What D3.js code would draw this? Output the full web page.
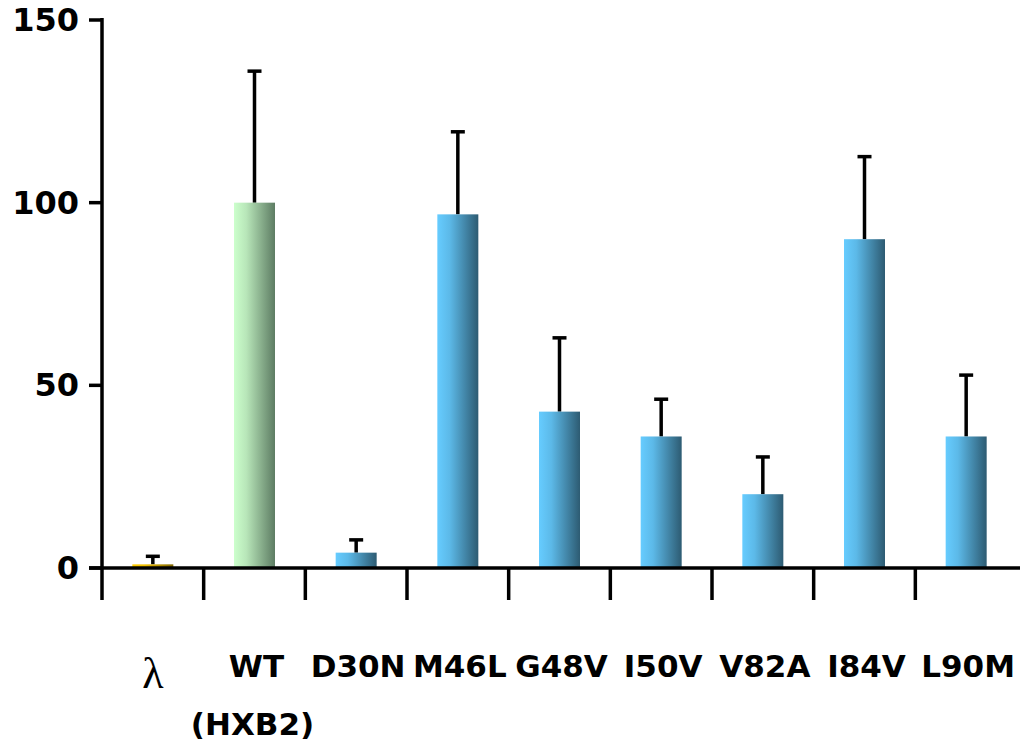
<!DOCTYPE html>
<html>
<head>
<meta charset="utf-8">
<script src="https://cdn.jsdelivr.net/npm/d3@7"></script>
<style>
  body { margin: 0; background: #fff; }
  text { font-family: "DejaVu Sans", sans-serif; font-weight: bold; }
</style>
</head>
<body>
<svg id="chart" width="1025" height="741"></svg>
<script>
// data
let categories = ["λ", "WT", "D30N", "M46L", "G48V", "I50V", "V82A", "I84V", "L90M"];
let values     = [1, 100, 4.2, 96.8, 42.8, 36, 20.2, 90, 36];
let errors     = [2.2, 36, 3.5, 22.6, 20.2, 10.2, 10.2, 22.6, 16.8];
let kinds      = ["gold", "green", "blue", "blue", "blue", "blue", "blue", "blue", "blue"];
let yTicks     = [0, 50, 100, 150];

let svg = d3.select("#chart");

let x = d3.scaleBand().domain(categories).range([102, 1017]).paddingInner(0).paddingOuter(0);
let y = d3.scaleLinear().domain([0, 150]).range([568, 20]);
let barW = 41;

// gradients, light on the left, dark on the right
let gradColors = {
  gold:  ["#ffcc00", "#f2c000", "#7f6500"],
  green: ["#ccffcc", "#b8e6b9", "#5d7c63"],
  blue:  ["#66ccff", "#5cb9e8", "#2d5b72"]
};
let defs = svg.append("defs");
Object.keys(gradColors).forEach(k => {
  let g = defs.append("linearGradient").attr("id", "grad-" + k)
    .attr("x1", "0%").attr("x2", "100%").attr("y1", "0%").attr("y2", "0%");
  g.append("stop").attr("offset", "0%").attr("stop-color", gradColors[k][0]);
  g.append("stop").attr("offset", "30%").attr("stop-color", gradColors[k][1]);
  g.append("stop").attr("offset", "100%").attr("stop-color", gradColors[k][2]);
});

// -------------------- ERROR BARS -------------------- //
let errG = svg.append("g");
categories.forEach((c, i) => {
  let cx = x(c) + x.bandwidth() / 2;
  errG.append("line")
    .attr("x1", cx).attr("x2", cx)
    .attr("y1", y(values[i])).attr("y2", y(values[i] + errors[i]))
    .attr("stroke", "#000").attr("stroke-width", 3.5);
  errG.append("line")
    .attr("x1", cx - 7).attr("x2", cx + 7)
    .attr("y1", y(values[i] + errors[i])).attr("y2", y(values[i] + errors[i]))
    .attr("stroke", "#000").attr("stroke-width", 3.5);
});

// -------------------- BARS -------------------- //
svg.append("g").selectAll("rect")
  .data(categories)
  .enter()
  .append("rect")
    .attr("x", d => x(d) + x.bandwidth() / 2 - barW / 2)
    .attr("width", barW)
    .attr("y", (d, i) => y(values[i]))
    .attr("height", (d, i) => y(0) - y(values[i]))
    .attr("fill", (d, i) => "url(#grad-" + kinds[i] + ")");

// -------------------- AXES -------------------- //
let axisG = svg.append("g").attr("stroke", "#000").attr("stroke-width", 3.5);
// y axis
axisG.append("line").attr("x1", 102).attr("x2", 102).attr("y1", 18).attr("y2", 600);
yTicks.forEach(t => {
  axisG.append("line").attr("x1", 89).attr("x2", 102).attr("y1", y(t)).attr("y2", y(t));
});
// x axis
axisG.append("line").attr("x1", 89).attr("x2", 1020).attr("y1", y(0)).attr("y2", y(0));
categories.forEach(c => {
  let bx = x(c) + x.bandwidth();
  if (bx < 1000) {
    axisG.append("line").attr("x1", bx).attr("x2", bx).attr("y1", y(0)).attr("y2", 600);
  }
});

// y tick labels
svg.append("g").selectAll("text")
  .data(yTicks)
  .enter()
  .append("text")
    .attr("x", 79)
    .attr("y", d => y(d) + 11)
    .attr("text-anchor", "end")
    .attr("font-size", 32)
    .text(d => d);

// x labels
svg.append("g").selectAll("text")
  .data(categories)
  .enter()
  .append("text")
    .attr("x", d => x(d) + x.bandwidth() / 2 + (d === "λ" ? 0 : 2))
    .attr("y", d => d === "λ" ? 688 : 677)
    .attr("text-anchor", "middle")
    .attr("font-size", d => d === "λ" ? 44 : 31)
    .style("font-family", d => d === "λ" ? "'Liberation Serif', serif" : null)
    .style("font-weight", d => d === "λ" ? "normal" : null)
    .text(d => d);

svg.append("text")
  .attr("x", x("WT") + x.bandwidth() / 2 - 2)
  .attr("y", 735)
  .attr("text-anchor", "middle")
  .attr("font-size", 31)
  .text("(HXB2)");
</script>
</body>
</html>
